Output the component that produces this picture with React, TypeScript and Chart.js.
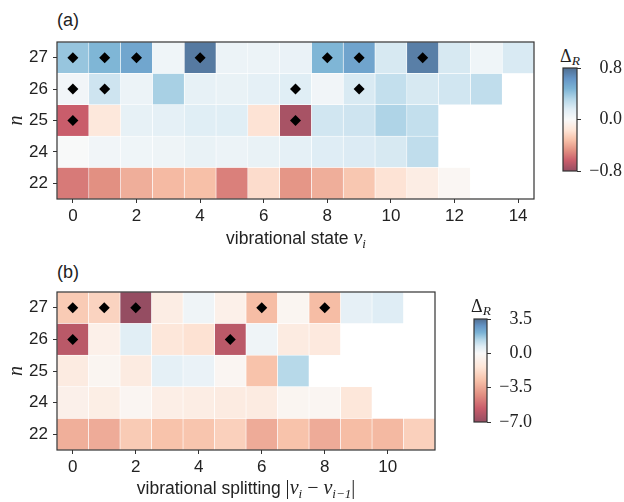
import { useEffect, useRef } from 'react';
import { Chart, registerables } from 'chart.js';
import type { Plugin } from 'chart.js';

Chart.register(...registerables);

const SANS = '"Liberation Sans", Arial, sans-serif';
const SERIF = '"Liberation Serif", "Times New Roman", serif';
const INK = '#222';

const ROW_LABELS = ['27', '26', '25', '24', '22'];

// (a) Δ_R against vibrational state v_i
const STATES = [0, 1, 2, 3, 4, 5, 6, 7, 8, 9, 10, 11, 12, 13, 14];
const STATE_TICKS = [0, 2, 4, 6, 8, 10, 12, 14];
const STATE_27 = [0.4, 0.47, 0.55, 0.06, 0.75, 0.08, 0.08, 0.09, 0.47, 0.56, 0.19, 0.73, 0.19, 0.06, 0.18];
const STATE_26 = [0.05, 0.22, 0.08, 0.35, 0.11, 0.1, 0.12, 0.15, 0.05, 0.18, 0.26, 0.19, 0.21, 0.27, null];
const STATE_25 = [-0.64, -0.14, 0.11, 0.12, 0.15, 0.15, -0.17, -0.74, 0.21, 0.22, 0.33, 0.26, null, null, null];
const STATE_24 = [0.01, 0.05, 0.06, 0.07, 0.1, 0.08, 0.1, 0.12, 0.16, 0.17, 0.19, 0.27, null, null, null];
const STATE_22 = [-0.55, -0.48, -0.38, -0.34, -0.32, -0.53, -0.2, -0.46, -0.38, -0.29, -0.17, -0.1, -0.03, null, null];
const STATE_MARKS_27 = [0, 1, 2, 4, 8, 9, 11];
const STATE_MARKS_26 = [0, 1, 7, 9];
const STATE_MARKS_25 = [0, 7];
const STATE_CBAR_TICKS = [-0.8, 0, 0.8];

// (b) Δ_R against vibrational splitting |v_i - v_{i-1}|
const SPLITS = [0, 1, 2, 3, 4, 5, 6, 7, 8, 9, 10, 11];
const SPLIT_TICKS = [0, 2, 4, 6, 8, 10];
const SPLIT_27 = [-2.4, -2.1, -7.0, -0.9, 0.28, -0.7, -2.9, -0.35, -2.9, 0.5, 0.7, null];
const SPLIT_26 = [-6.0, -0.7, 0.63, -1.3, -1.55, -6.0, 0.28, -1.0, -1.15, null, null, null];
const SPLIT_25 = [-1.0, -0.35, -1.0, 0.55, 0.4, -0.3, -2.7, 1.33, null, null, null, null];
const SPLIT_24 = [-0.65, -0.85, -0.3, -0.8, -0.9, -1.0, -1.0, -0.35, -0.3, -1.3, null, null];
const SPLIT_22 = [-3.3, -3.4, -2.4, -2.7, -2.6, -2.2, -3.4, -2.7, -3.4, -2.9, -3.0, -2.2];
const SPLIT_MARKS_27 = [0, 1, 2, 6, 8];
const SPLIT_MARKS_26 = [0, 5];
const SPLIT_CBAR_TICKS = [-7, -3.5, 0, 3.5];

// RdBu, drawn at 70% opacity on white
const RDBU = ['#67001f', '#b2182b', '#d6604d', '#f4a582', '#fddbc7', '#f7f7f7', '#d1e5f0', '#92c5de', '#4393c3', '#2166ac', '#053061'];
const ALPHA = 0.7;

const hexRgb = (h: string) => [1, 3, 5].map((i) => parseInt(h.slice(i, i + 2), 16));

function rdbu(t: number): string {
  const u = Math.min(1, Math.max(0, t)) * (RDBU.length - 1);
  const i = Math.min(Math.floor(u), RDBU.length - 2);
  const f = u - i;
  const a = hexRgb(RDBU[i]);
  const b = hexRgb(RDBU[i + 1]);
  const c = a.map((v, k) => Math.round((v + (b[k] - v) * f) * ALPHA + 255 * (1 - ALPHA)));
  return `rgb(${c[0]}, ${c[1]}, ${c[2]})`;
}

const normState = (v: number) => (v + 0.8) / 1.6;
const invState = (t: number) => t * 1.6 - 0.8;
// two-slope norm centred on zero
const normSplit = (v: number) => (v < 0 ? 0.5 + (0.5 * v) / 7 : 0.5 + (0.5 * v) / 3.5);
const invSplit = (t: number) => (t < 0.5 ? (t - 0.5) * 14 : (t - 0.5) * 7);

const framePlugin: Plugin = {
  id: 'frame',
  afterDatasetsDraw(chart) {
    const { ctx, chartArea: a } = chart;
    ctx.save();
    ctx.strokeStyle = '#333';
    ctx.lineWidth = 1.2;
    ctx.strokeRect(a.left, a.top, a.right - a.left, a.bottom - a.top);
    ctx.restore();
  },
};

const tickGrid = { display: true, drawOnChartArea: false, offset: false, tickLength: 4, color: '#333', lineWidth: 1 };

interface HeatmapProps {
  columns: number[];
  ticks: number[];
  rows: (number | null)[][];
  marks: number[][];
  norm: (v: number) => number;
  left: number;
  top: number;
  width: number;
  height: number;
  padTop: number;
  padRight: number;
  axisHeight: number;
}

function Heatmap({ columns, ticks, rows, marks, norm, left, top, width, height, padTop, padRight, axisHeight }: HeatmapProps) {
  const ref = useRef<HTMLCanvasElement>(null);

  useEffect(() => {
    if (!ref.current) return;

    const points = marks.flatMap((cols, r) => cols.map((c) => ({ x: c, y: ROW_LABELS[r] })));

    // one horizontal floating bar dataset per column, one bar per row
    const cells = columns.map((c) => ({
      type: 'bar',
      data: rows.map((row) => (row[c] == null ? null : [c - 0.5, c + 0.5])),
      backgroundColor: rows.map((row) => (row[c] == null ? 'rgba(0,0,0,0)' : rdbu(norm(row[c] as number)))),
      borderColor: '#fff',
      borderWidth: 0.6,
      borderSkipped: false,
      grouped: false,
      barPercentage: 1,
      categoryPercentage: 1,
    }));

    const chart = new Chart(ref.current, {
      type: 'bar',
      data: {
        labels: ROW_LABELS,
        datasets: [
          {
            type: 'scatter',
            data: points,
            pointStyle: 'rectRot',
            pointRadius: 5.5,
            backgroundColor: '#000',
            borderWidth: 0,
            order: -1,
          },
          ...cells,
        ] as any,
      },
      options: {
        indexAxis: 'y',
        responsive: false,
        animation: false,
        events: [],
        layout: { padding: { left: 0, top: padTop, right: padRight, bottom: 0 } },
        plugins: { legend: { display: false }, tooltip: { enabled: false } },
        scales: {
          x: {
            type: 'linear',
            min: -0.5,
            max: columns.length - 0.5,
            afterBuildTicks: (s: any) => {
              s.ticks = ticks.map((value) => ({ value }));
            },
            afterFit: (s: any) => {
              s.height = axisHeight;
            },
            grid: tickGrid,
            border: { display: false },
            ticks: { color: INK, font: { family: SANS, size: 17 }, padding: 3, maxRotation: 0, callback: (v: any) => String(v) },
          },
          y: {
            type: 'category',
            offset: true,
            afterFit: (s: any) => {
              s.width = 57;
            },
            grid: tickGrid,
            border: { display: false },
            ticks: { color: INK, font: { family: SANS, size: 17 }, padding: 5 },
            title: {
              display: true,
              text: 'n',
              color: INK,
              font: { family: SERIF, size: 20, style: 'italic' },
              padding: { top: 5, bottom: 0 },
            },
          },
        },
      } as any,
      plugins: [framePlugin],
    });

    return () => chart.destroy();
  }, []);

  return (
    <canvas
      ref={ref}
      width={width}
      height={height}
      style={{ position: 'absolute', left, top, width, height, display: 'block' }}
    />
  );
}

interface ColorbarProps {
  min: number;
  max: number;
  ticks: number[];
  inv: (t: number) => number;
  left: number;
  top: number;
  width: number;
  height: number;
  barWidth: number;
}

function Colorbar({ min, max, ticks, inv, left, top, width, height, barWidth }: ColorbarProps) {
  const ref = useRef<HTMLCanvasElement>(null);

  useEffect(() => {
    if (!ref.current) return;
    const padLeft = 8;
    const pad = 14;

    const gradient = (ctx: any) => {
      const { chart } = ctx;
      const area = chart.chartArea;
      if (!area) return 'rgba(0,0,0,0)';
      const g = chart.ctx.createLinearGradient(0, area.bottom, 0, area.top);
      RDBU.forEach((_, k) => {
        const t = k / (RDBU.length - 1);
        const f = (inv(t) - min) / (max - min);
        g.addColorStop(Math.min(1, Math.max(0, f)), rdbu(t));
      });
      return g;
    };

    const chart = new Chart(ref.current, {
      type: 'bar',
      data: {
        labels: [''],
        datasets: [
          {
            data: [[min, max]],
            backgroundColor: gradient,
            borderWidth: 0,
            barPercentage: 1,
            categoryPercentage: 1,
          },
        ] as any,
      },
      options: {
        responsive: false,
        animation: false,
        events: [],
        layout: { padding: { left: padLeft, top: pad, right: 0, bottom: pad } },
        plugins: { legend: { display: false }, tooltip: { enabled: false } },
        scales: {
          x: { display: false },
          y: {
            type: 'linear',
            position: 'right',
            min,
            max,
            afterBuildTicks: (s: any) => {
              s.ticks = ticks.map((value) => ({ value }));
            },
            afterFit: (s: any) => {
              s.width = width - padLeft - barWidth;
            },
            grid: { display: true, drawOnChartArea: false, tickLength: 4, color: '#333', lineWidth: 1 },
            border: { display: false },
            ticks: {
              color: INK,
              crossAlign: 'far',
              padding: 2,
              font: { family: SERIF, size: 18 },
              callback: (v: any) => (v < 0 ? '\u2212' : '') + Math.abs(v).toFixed(1),
            },
          },
        },
      } as any,
      plugins: [framePlugin],
    });

    return () => chart.destroy();
  }, []);

  return (
    <canvas
      ref={ref}
      width={width}
      height={height}
      style={{ position: 'absolute', left, top, width, height, display: 'block' }}
    />
  );
}

const textBase = { position: 'absolute' as const, whiteSpace: 'nowrap' as const, color: INK, lineHeight: 1 };
const mathV = { fontFamily: SERIF, fontStyle: 'italic', fontSize: 20 };
const sub = { fontSize: 13, position: 'relative' as const, top: 4 };

function DeltaR({ x, top }: { x: number; top: number }) {
  return (
    <div style={{ ...textBase, left: x, top, transform: 'translateX(-50%)', fontFamily: SERIF, fontSize: 18 }}>
      Δ<span style={{ ...sub, fontStyle: 'italic', fontSize: 13.5, top: 3 }}>R</span>
    </div>
  );
}

export default function App() {
  return (
    <div style={{ position: 'absolute', left: 0, top: 0, width: 624, height: 502, background: '#fff', overflow: 'hidden' }}>
      <div style={{ ...textBase, left: 57, top: 11, fontFamily: SANS, fontSize: 18 }}>(a)</div>
      <Heatmap
        columns={STATES}
        ticks={STATE_TICKS}
        rows={[STATE_27, STATE_26, STATE_25, STATE_24, STATE_22]}
        marks={[STATE_MARKS_27, STATE_MARKS_26, STATE_MARKS_25, [], []]}
        norm={normState}
        left={0}
        top={0}
        width={560}
        height={240}
        padTop={42}
        padRight={26}
        axisHeight={41}
      />
      <div style={{ ...textBase, left: 296, top: 227, transform: 'translateX(-50%)', fontFamily: SANS, fontSize: 17.5 }}>
        vibrational state{' '}
        <span style={mathV}>
          v<span style={sub}>i</span>
        </span>
      </div>
      <DeltaR x={570} top={47} />
      <Colorbar min={-0.8} max={0.8} ticks={STATE_CBAR_TICKS} inv={invState} left={555} top={54} width={67} height={131} barWidth={14} />

      <div style={{ ...textBase, left: 57, top: 263, fontFamily: SANS, fontSize: 18 }}>(b)</div>
      <Heatmap
        columns={SPLITS}
        ticks={SPLIT_TICKS}
        rows={[SPLIT_27, SPLIT_26, SPLIT_25, SPLIT_24, SPLIT_22]}
        marks={[SPLIT_MARKS_27, SPLIT_MARKS_26, [], [], []]}
        norm={normSplit}
        left={0}
        top={250}
        width={460}
        height={240}
        padTop={42}
        padRight={25}
        axisHeight={40}
      />
      <div style={{ ...textBase, left: 246, top: 477, transform: 'translateX(-50%)', fontFamily: SANS, fontSize: 17.5 }}>
        vibrational splitting{' '}
        <span style={{ fontFamily: SERIF, fontSize: 20 }}>
          |<span style={mathV}>v<span style={sub}>i</span></span>
          {' \u2212 '}
          <span style={mathV}>v<span style={sub}>i{'\u2212'}1</span></span>|
        </span>
      </div>
      <DeltaR x={481} top={297} />
      <Colorbar min={-7} max={3.5} ticks={SPLIT_CBAR_TICKS} inv={invSplit} left={466} top={305} width={66} height={131} barWidth={13} />
    </div>
  );
}
